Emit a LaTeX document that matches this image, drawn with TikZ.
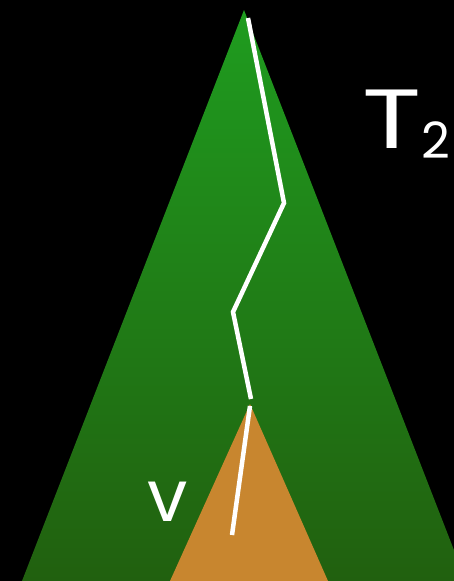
\documentclass[tikz,border=0pt]{standalone}
\usepackage{fontspec}
\setmainfont{Poppins}
\begin{document}
\begin{tikzpicture}[x=1pt,y=-1pt,
  pathline/.style={white,line width=4.5pt,line cap=butt,line join=miter},
  lbl/.style={white,inner sep=0pt}]
\definecolor{gtop}{HTML}{1F9C1F}
\definecolor{gbot}{HTML}{21600F}
\definecolor{ora}{HTML}{C8862F}
\fill[black] (0,0) rectangle (454,581);
\useasboundingbox (0,0) rectangle (454,581);
\clip (0,0) rectangle (454,581);
\shade[top color=gtop,bottom color=gbot] (244,10) -- (466,581) -- (22,581) -- cycle;
\fill[ora] (250,404) -- (328,581) -- (170,581) -- cycle;
\coordinate (p0) at (248,18);
\coordinate (p1) at (284,203);
\coordinate (p2) at (233,312);
\coordinate (p3) at (251,399);
\coordinate (q0) at (250,406);
\coordinate (q1) at (232,535);
\draw[pathline] (p0) -- (p1) -- (p2) -- (p3);
\draw[pathline] (q0) -- (q1);
\node[lbl,anchor=base west] (T) at (362,148) {\fontsize{84}{84}\selectfont\scalebox{1.3}[1]{T}};
\node[lbl,anchor=base west] (two) at (421,158) {\fontsize{50}{50}\selectfont 2};
\node[lbl,anchor=base] (v) at (168,521) {\fontsize{72}{72}\selectfont v};
\end{tikzpicture}
\end{document}
